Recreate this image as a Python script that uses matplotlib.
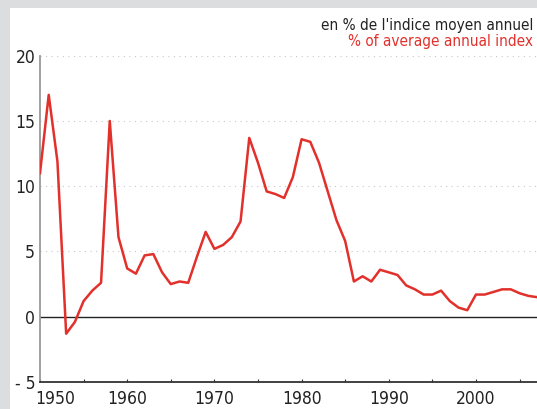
#!/usr/bin/env python3
"""Annual consumer price change, 1950-2007."""

import matplotlib
matplotlib.use("Agg")
import matplotlib.pyplot as plt
from matplotlib.patches import Rectangle
from matplotlib.ticker import MultipleLocator, FuncFormatter

matplotlib.rcParams.update({
    "font.family": ["DejaVu Sans"],
    "font.stretch": "condensed",
    "font.size": 12,
})

RED = "#e2302b"

years = list(range(1950, 2008))
values = [11.0, 17.0, 11.9, -1.3, -0.4, 1.2, 2.0, 2.6, 15.0, 6.1,
          3.7, 3.3, 4.7, 4.8, 3.4, 2.5, 2.7, 2.6, 4.6, 6.5,
          5.2, 5.5, 6.1, 7.3, 13.7, 11.8, 9.6, 9.4, 9.1, 10.7,
          13.6, 13.4, 11.8, 9.6, 7.4, 5.8, 2.7, 3.1, 2.7, 3.6,
          3.4, 3.2, 2.4, 2.1, 1.7, 1.7, 2.0, 1.2, 0.7, 0.5,
          1.7, 1.7, 1.9, 2.1, 2.1, 1.8, 1.6, 1.5]
yticks = [-5, 0, 5, 10, 15, 20]
ytick_labels = ["- 5", "0", "5", "10", "15", "20"]
title_fr = "en % de l'indice moyen annuel"
title_en = "% of average annual index"

W, H = 537, 409
fig = plt.figure(figsize=(W / 100, H / 100), dpi=100, facecolor="#dcdddf")
# white panel inside the grey frame
fig.patches.append(Rectangle((10 / W, 0), 1, 1 - 8 / H, transform=fig.transFigure,
                             facecolor="white", edgecolor="none", zorder=0))

ax = fig.add_axes([40 / W, 27 / H, 1 - 40 / W, (382 - 55.7) / H])
ax.set_facecolor("none")
ax.set_zorder(2)

ax.plot(years, values, color=RED, lw=1.8, solid_joinstyle="round", zorder=3)
ax.axhline(0, color="#222222", lw=1.0, zorder=2)

ax.set_xlim(1950, 2007)
ax.set_ylim(-5, 20)

# dotted grid on the positive values only
for g in [5, 10, 15, 20]:
    ax.axhline(g, color="#c8c8c8", lw=0.8, linestyle=(0, (1, 4)), zorder=1)

ax.set_yticks(yticks)
ax.set_yticklabels(ytick_labels)
ax.tick_params(axis="y", length=0, pad=3.5, labelsize=12.5, colors="#222222")

ax.xaxis.set_major_locator(MultipleLocator(10))
ax.xaxis.set_minor_locator(MultipleLocator(5))
# the first year is written separately, nudged right of the corner
ax.xaxis.set_major_formatter(FuncFormatter(
    lambda v, pos: "" if v <= years[0] else f"{v:.0f}"))
ax.tick_params(axis="x", which="both", direction="in", length=2.5, width=0.8,
               color="#333333", pad=6, labelsize=12.5, labelcolor="#222222")
ax.annotate(str(years[0]), xy=(years[0], 0), xycoords=("data", "axes fraction"),
            xytext=(-3.5, -6), textcoords="offset points", ha="left", va="top",
            fontsize=12.5, color="#222222", annotation_clip=False)

for side in ["top", "right"]:
    ax.spines[side].set_visible(False)
ax.spines["left"].set_color("#9a9a9a")
ax.spines["left"].set_linewidth(1.3)
ax.spines["bottom"].set_color("#333333")
ax.spines["bottom"].set_linewidth(1.3)

fig.text(533 / W, 1 - 30 / H, title_fr, ha="right", va="baseline",
         fontsize=11, color="#222222")
fig.text(533 / W, 1 - 46 / H, title_en, ha="right", va="baseline",
         fontsize=11, color=RED)

fig.savefig("out.png", dpi=100, facecolor=fig.get_facecolor())
